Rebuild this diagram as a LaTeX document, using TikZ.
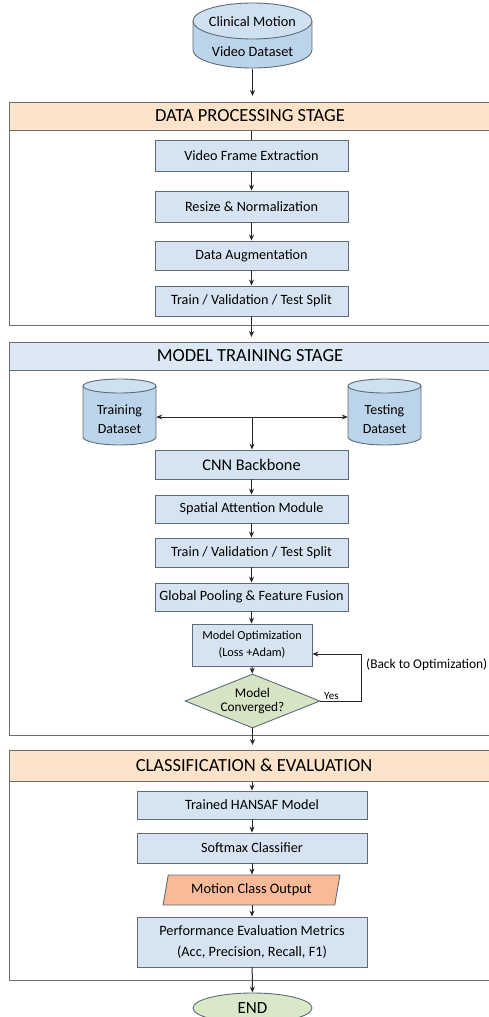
\documentclass[tikz,border=0pt]{standalone}
\usepackage{fontspec}
\setmainfont{Carlito}
\usetikzlibrary{arrows.meta,shapes.geometric}
\definecolor{boxfill}{HTML}{D6E4F1}
\definecolor{boxline}{HTML}{5E6B78}
\definecolor{peach}{HTML}{FDE3C9}
\definecolor{hblue}{HTML}{DCE8F3}
\definecolor{cyltop}{HTML}{CFE0F0}
\definecolor{cylbody}{HTML}{BCD4EA}
\definecolor{dgreen}{HTML}{D6E3C4}
\definecolor{egreen}{HTML}{D9E8C9}
\definecolor{salmon}{HTML}{F8BA98}
\definecolor{panelline}{HTML}{6E6E6E}
\begin{document}
\begin{tikzpicture}[x=1pt,y=-1pt,
  box/.style={draw=boxline, fill=boxfill, line width=0.9pt, inner sep=0pt, align=center, font=\fontsize{14.2}{17}\selectfont},
  header/.style={draw=panelline, line width=1pt, inner sep=0pt},
  htext/.style={font=\fontsize{18.5}{21}\selectfont},
  panel/.style={draw=panelline, line width=1pt},
  arr/.style={-{Stealth[length=6pt,width=5pt]}, line width=1pt, black!85},
  plain/.style={line width=1pt, black!85},
  cyl/.style={draw=boxline, line width=0.9pt},
  ghost/.style={inner sep=0pt, align=center}
]
\useasboundingbox (0,0) rectangle (489,1017);
\clip (0,0) rectangle (489,1017);

% ---------- panels ----------
\draw[panel] (9,102) rectangle (498,325);
\draw[panel] (9,342) rectangle (498,735);
\draw[panel] (9,750) rectangle (498,980);
\node[header, fill=peach, minimum width=489pt, minimum height=28pt, anchor=north west] (h1) at (9,102) {};
\node[header, fill=hblue, minimum width=489pt, minimum height=28pt, anchor=north west] (h2) at (9,342) {};
\node[header, fill=peach, minimum width=489pt, minimum height=31pt, anchor=north west] (h3) at (9,750) {};
\node[htext] (t1) at (250,116) {DATA PROCESSING STAGE};
\node[htext] (t2) at (250,356) {MODEL TRAINING STAGE};
\node[htext] (t3) at (254,765.5) {CLASSIFICATION \& EVALUATION};

% ---------- top cylinder ----------
\fill[cylbody] (193,21) -- (193,50) arc[start angle=180,end angle=0,x radius=59.5,y radius=18] -- (312,21) arc[start angle=0,end angle=-180,x radius=59.5,y radius=18] -- cycle;
\draw[cyl] (193,21) -- (193,50) arc[start angle=180,end angle=0,x radius=59.5,y radius=18] -- (312,21);
\draw[cyl, fill=cyltop] (252.5,21) ellipse [x radius=59.5, y radius=18];
\node[ghost, minimum width=119pt, minimum height=65pt] (cmv) at (252.5,36) {};
\node[font=\fontsize{14.3}{17}\selectfont] (cmv1) at (252.5,22) {Clinical Motion};
\node[font=\fontsize{14.3}{17}\selectfont] (cmv2) at (252.5,52) {Video Dataset};

% ---------- data processing boxes ----------
\node[box, minimum width=193pt, minimum height=31pt] (vfe) at (251.5,155.5) {Video Frame Extraction};
\node[box, minimum width=193pt, minimum height=31pt] (rn) at (251.5,206.5) {Resize \& Normalization};
\node[box, minimum width=193pt, minimum height=29pt] (da) at (251.5,255.5) {Data Augmentation};
\node[box, minimum width=193pt, minimum height=30pt] (tvt1) at (251.5,301) {Train / Validation / Test Split};

% ---------- training / testing cylinders ----------
\fill[cylbody] (83,386) -- (83,437) arc[start angle=180,end angle=0,x radius=36.5,y radius=8] -- (156,386) arc[start angle=0,end angle=-180,x radius=36.5,y radius=7] -- cycle;
\draw[cyl] (83,386) -- (83,437) arc[start angle=180,end angle=0,x radius=36.5,y radius=8] -- (156,386);
\draw[cyl, fill=cyltop] (119.5,386) ellipse [x radius=36.5, y radius=7];
\node[ghost, minimum width=73pt, minimum height=66pt] (trd) at (119.5,412) {};
\node[ghost, font=\fontsize{14}{19}\selectfont] (trdt) at (119.5,419.5) {Training\\Dataset};

\fill[cylbody] (348,386) -- (348,437) arc[start angle=180,end angle=0,x radius=36.5,y radius=8] -- (421,386) arc[start angle=0,end angle=-180,x radius=36.5,y radius=7] -- cycle;
\draw[cyl] (348,386) -- (348,437) arc[start angle=180,end angle=0,x radius=36.5,y radius=8] -- (421,386);
\draw[cyl, fill=cyltop] (384.5,386) ellipse [x radius=36.5, y radius=7];
\node[ghost, minimum width=73pt, minimum height=66pt] (ted) at (384.5,412) {};
\node[ghost, font=\fontsize{14}{19}\selectfont] (tedt) at (384.5,419.5) {Testing\\Dataset};

\coordinate (split) at (252,417);

% ---------- model training boxes ----------
\node[box, minimum width=193pt, minimum height=29pt, font=\fontsize{16.3}{19}\selectfont] (cnn) at (251.5,464.5) {CNN Backbone};
\node[box, minimum width=193pt, minimum height=28pt] (sam) at (251.5,509) {Spatial Attention Module};
\node[box, minimum width=193pt, minimum height=29pt] (tvt2) at (251.5,552.5) {Train / Validation / Test Split};
\node[box, minimum width=193pt, minimum height=28pt] (gp) at (251.5,597) {Global Pooling \& Feature Fusion};
\node[box, minimum width=120pt, minimum height=42pt, font=\fontsize{12.3}{17}\selectfont] (mo) at (252,645) {Model Optimization\\(Loss +Adam)};
\node[draw=boxline, fill=dgreen, line width=0.9pt, diamond, aspect=2.5, inner sep=0pt, minimum width=135pt, minimum height=54pt, align=center, font=\fontsize{13.3}{14.5}\selectfont] (conv) at (252.5,701) {Model\\Converged?};
\coordinate (loopR) at (361,701);
\coordinate (loopT) at (361,654);
\node[anchor=south west, inner sep=0pt, font=\fontsize{11}{13}\selectfont] (yes) at (324,700) {Yes};
\node[anchor=west, inner sep=0pt, font=\fontsize{13.4}{15}\selectfont] (back) at (366,665) {(Back to Optimization)};

% ---------- classification boxes ----------
\node[box, minimum width=230pt, minimum height=28pt] (thm) at (252,805) {Trained HANSAF Model};
\node[box, minimum width=230pt, minimum height=30pt] (sc) at (252,848) {Softmax Classifier};
\node[draw=boxline, fill=salmon, line width=0.9pt, trapezium, trapezium left angle=73, trapezium right angle=107, trapezium stretches=true, inner sep=0pt, minimum width=177pt, minimum height=30pt, font=\fontsize{14.4}{17}\selectfont] (mco) at (251.5,890) {Motion Class Output};
\node[box, minimum width=230pt, minimum height=50pt, font=\fontsize{14.3}{21}\selectfont] (pem) at (252,942) {Performance Evaluation Metrics\\(Acc, Precision, Recall, F1)};
\node[draw=boxline, fill=egreen, line width=0.9pt, ellipse, inner sep=0pt, minimum width=119pt, minimum height=30pt, font=\fontsize{17}{19}\selectfont] (end) at (252.5,1008) {END};

% ---------- connectors ----------
\draw[arr, shorten >=6pt] (cmv.south) -- (h1.north -| cmv.south);
\draw[plain] (vfe.north |- h1.south) -- (vfe.north);
\draw[arr] (vfe) -- (rn);
\draw[arr] (rn) -- (da);
\draw[arr] (da) -- (tvt1);
\draw[arr, shorten >=5pt] (tvt1.south) -- (tvt1.south |- h2.north);
\draw[arr] (split) -- (trd.east |- split);
\draw[arr] (split) -- (ted.west |- split);
\draw[arr] (split) -- (split |- cnn.north);
\draw[arr] (cnn) -- (sam);
\draw[arr] (sam) -- (tvt2);
\draw[arr] (tvt2) -- (gp);
\draw[arr] (gp) -- (mo.north -| gp.south);
\draw[arr] (mo) -- (conv);
\draw[arr] (conv.east) -- (loopR) -- (loopT) -- (mo.east |- loopT);
\draw[arr, shorten >=5pt] (conv.south) -- (conv.south |- h3.north);
\draw[arr] (thm.north |- h3.south) -- (thm.north);
\draw[arr] (thm) -- (sc);
\draw[arr] (sc) -- (mco.north -| sc.south);
\draw[arr] (mco.south -| pem.north) -- (pem);
\draw[arr] (pem) -- (end);
\end{tikzpicture}
\end{document}
